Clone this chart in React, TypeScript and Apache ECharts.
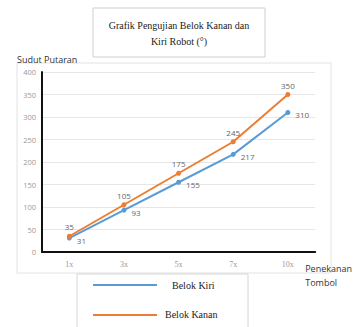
import React, { useEffect, useRef } from "react";
import * as echarts from "echarts";

const categories = ["1x", "3x", "5x", "7x", "10x"];
const belokKiri = [31, 93, 155, 217, 310];
const belokKanan = [35, 105, 175, 245, 350];
const yTicks = { min: 0, max: 400, interval: 50 };

const BLUE = "#5B9BD5";
const ORANGE = "#ED7D31";

export default function App() {
  const ref = useRef<HTMLDivElement>(null);
  useEffect(() => {
    const chart = echarts.init(ref.current!, null, { renderer: "svg" });
    const sansFont = "'Open Sans', sans-serif";
    const serifFont = "'Liberation Serif', serif";
    chart.setOption({
      animation: false,
      backgroundColor: "#fff",
      grid: { left: 42, top: 72, right: 35, bottom: 75, containLabel: false },
      xAxis: {
        type: "category",
        data: categories,
        boundaryGap: true,
        name: "Penekanan\nTombol",
        nameLocation: "end",
        nameGap: 0,
        nameTextStyle: {
          fontFamily: sansFont,
          fontSize: 9,
          color: "#333",
          align: "left",
          verticalAlign: "top",
          lineHeight: 14,
          padding: [9, 0, 0, -10],
        },
        axisLine: { show: true, lineStyle: { color: "#111", width: 2 } },
        axisTick: { show: false },
        axisLabel: { color: "#999", fontSize: 8, fontFamily: serifFont, margin: 8 },
        splitLine: { show: false },
      },
      yAxis: {
        type: "value",
        min: yTicks.min,
        max: yTicks.max,
        interval: yTicks.interval,
        name: "Sudut Putaran",
        nameLocation: "end",
        nameGap: 8,
        nameTextStyle: {
          fontFamily: sansFont,
          fontSize: 9,
          color: "#333",
          align: "left",
          padding: [0, 0, 0, -25],
        },
        axisLine: { show: true, lineStyle: { color: "#111", width: 2 } },
        axisTick: { show: false },
        axisLabel: { color: "#999", fontSize: 7.5, fontFamily: sansFont, margin: 6 },
        splitLine: { show: true, lineStyle: { color: "#e6e6e6", width: 1 } },
      },
      series: [
        {
          name: "Belok Kiri",
          type: "line",
          data: belokKiri,
          color: BLUE,
          symbol: "circle",
          symbolSize: 5,
          lineStyle: { width: 2 },
          label: {
            show: true,
            position: "right",
            distance: 5,
            offset: [0, 2],
            color: "#666",
            fontSize: 8,
            fontFamily: sansFont,
          },
        },
        {
          name: "Belok Kanan",
          type: "line",
          data: belokKanan,
          color: ORANGE,
          symbol: "circle",
          symbolSize: 5,
          lineStyle: { width: 2 },
          label: {
            show: true,
            position: "top",
            distance: 3,
            color: "#666",
            fontSize: 8,
            fontFamily: sansFont,
          },
        },
      ],
      graphic: [
        {
          type: "rect",
          z: -10,
          shape: { x: 17, y: 63, width: 314, height: 210 },
          style: { fill: "none", stroke: "#e2e2e2", lineWidth: 1 },
        },
        {
          type: "rect",
          z: 10,
          shape: { x: 93, y: 8, width: 172, height: 49 },
          style: { fill: "#fff", stroke: "#cfcfcf", lineWidth: 1 },
        },
        {
          type: "text",
          z: 11,
          x: 179,
          y: 33,
          style: {
            text: "Grafik Pengujian Belok Kanan dan\nKiri Robot (°)",
            fontFamily: serifFont,
            fontSize: 10,
            lineHeight: 16,
            fill: "#222",
            align: "center",
            verticalAlign: "middle",
          },
        },
        {
          type: "rect",
          z: 10,
          shape: { x: 77, y: 274, width: 171, height: 60 },
          style: { fill: "#fff", stroke: "#d6d6d6", lineWidth: 1 },
        },
        {
          type: "line",
          z: 11,
          shape: { x1: 93, y1: 285, x2: 157, y2: 285 },
          style: { stroke: BLUE, lineWidth: 2 },
        },
        {
          type: "text",
          z: 11,
          x: 172,
          y: 285,
          style: {
            text: "Belok Kiri",
            fontFamily: serifFont,
            fontSize: 10,
            fill: "#222",
            verticalAlign: "middle",
          },
        },
        {
          type: "line",
          z: 11,
          shape: { x1: 93, y1: 315, x2: 157, y2: 315 },
          style: { stroke: ORANGE, lineWidth: 2 },
        },
        {
          type: "text",
          z: 11,
          x: 165,
          y: 314,
          style: {
            text: "Belok Kanan",
            fontFamily: serifFont,
            fontSize: 10,
            fill: "#222",
            verticalAlign: "middle",
          },
        },
      ],
    });
    return () => chart.dispose();
  }, []);
  return (
    <div
      ref={ref}
      style={{ width: 355, height: 327, position: "absolute", left: 0, top: 0 }}
    />
  );
}
